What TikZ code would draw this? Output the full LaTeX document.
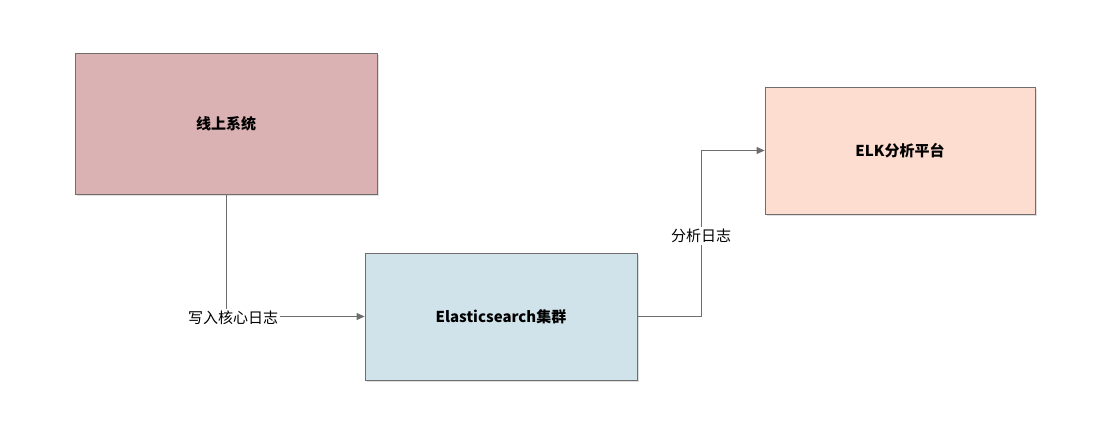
\documentclass[tikz,border=0pt]{standalone}
\usepackage{fontspec}
\setmainfont{Noto Sans CJK SC}
\usetikzlibrary{arrows.meta,shadows}
\definecolor{cA}{HTML}{DBB2B3}
\definecolor{cB}{HTML}{D1E3EA}
\definecolor{cC}{HTML}{FDDDD0}
\definecolor{ln}{HTML}{6E6E6E}
\begin{document}
\begin{tikzpicture}[x=1pt,y=-1pt,
  box/.style={draw=ln,line width=0.8pt,minimum width=#1,font=\fontsize{15}{18}\selectfont\bfseries,
    drop shadow={shadow xshift=2pt,shadow yshift=-2pt,fill=black!25,opacity=0.5}},
  conn/.style={draw=ln,line width=0.8pt,-{Triangle[length=8pt,width=7pt]}},
  lbl/.style={fill=white,font=\fontsize{15}{18}\selectfont,inner sep=2pt}]
\useasboundingbox (0,0) rectangle (1116,446);
\node[box=302pt,minimum height=141pt,fill=cA] (a) at (226,123.5) {线上系统};
\node[box=272pt,minimum height=127pt,fill=cB] (b) at (501,316.5) {Elasticsearch集群};
\node[box=270pt,minimum height=127pt,fill=cC] (c) at (900,150.5) {ELK分析平台};
\coordinate (j1) at (a.south |- b.west);
\coordinate (j2) at (701,0);
\draw[conn] (a.south) -- (j1) -- (b.west);
\draw[conn] (b.east) -- (b.east -| j2) -- (j2 |- c.west) -- (c.west);
\node[lbl] (l1) at (233,318) {写入核心日志};
\node[lbl] (l2) at (701,236) {分析日志};
\end{tikzpicture}
\end{document}
